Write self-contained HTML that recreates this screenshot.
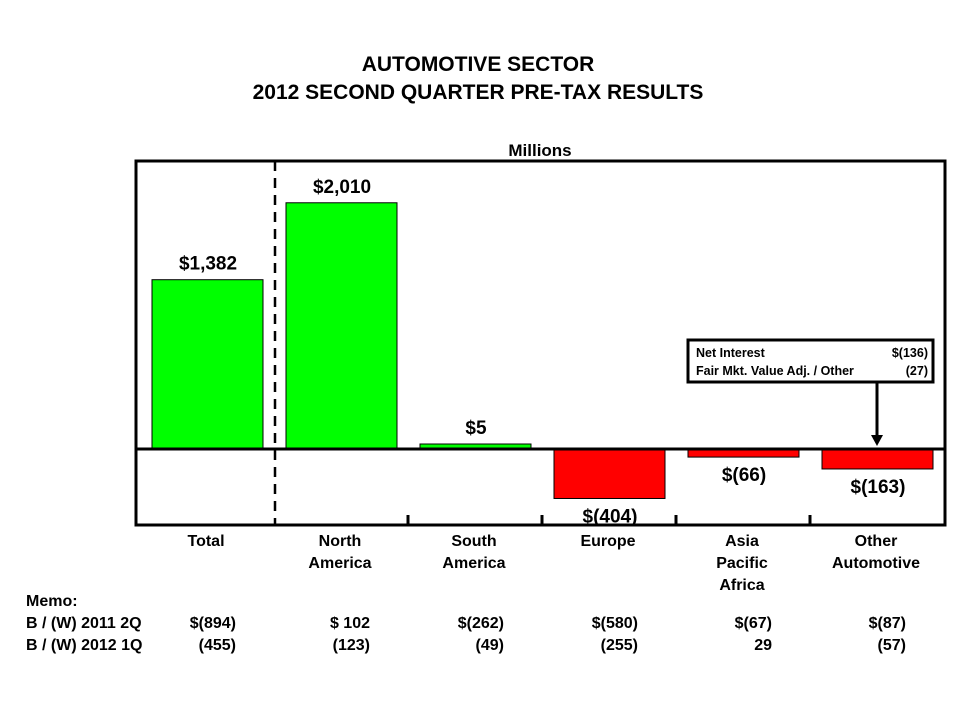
<!DOCTYPE html>
<html><head><meta charset="utf-8"><style>
body{margin:0;background:#fff;font-family:"Liberation Sans",Arial,sans-serif;}
svg text{font-family:"Liberation Sans",Arial,sans-serif;font-weight:bold;}
</style></head><body>
<svg id="chart" width="960" height="720" xmlns="http://www.w3.org/2000/svg">
<text x="478" y="71" text-anchor="middle" font-size="21">AUTOMOTIVE SECTOR</text>
<text x="478" y="99" text-anchor="middle" font-size="21">2012 SECOND QUARTER PRE-TAX RESULTS</text>
<text x="540" y="156" text-anchor="middle" font-size="17">Millions</text>
<g id="bars"></g>
<rect x="136" y="161" width="809" height="364" fill="none" stroke="#000" stroke-width="3"/>
<line x1="136" x2="945" y1="449" y2="449" stroke="#000" stroke-width="3"/>
<line x1="275" x2="275" y1="161" y2="525" stroke="#000" stroke-width="2.5" stroke-dasharray="10,7"/>
<g id="ticks"></g>
<g>
<rect x="688" y="340" width="245" height="42" fill="#fff" stroke="#000" stroke-width="3"/>
<text x="696" y="357" font-size="12.5">Net Interest</text>
<text x="928" y="357" font-size="12.5" text-anchor="end">$(136)</text>
<text x="696" y="375" font-size="12.5">Fair Mkt. Value Adj. / Other</text>
<text x="928" y="375" font-size="12.5" text-anchor="end">(27)</text>
<line x1="877" x2="877" y1="382" y2="436" stroke="#000" stroke-width="3"/>
<polygon points="871,435 883,435 877,446" fill="#000"/>
</g>
<g id="labels"></g>
<g font-size="16">
<text x="26" y="606" font-size="16">Memo:</text>
<text x="26" y="628">B / (W) 2011 2Q</text>
<text x="26" y="650">B / (W) 2012 1Q</text>
</g>
<g id="memo"></g>
</svg>
<script>
const categories=["Total","North|America","South|America","Europe","Asia|Pacific|Africa","Other|Automotive"];
const values=[1382,2010,5,-404,-66,-163];
const valueLabels=["$1,382","$2,010","$5","$(404)","$(66)","$(163)"];
const memo2011=["$(894)","$ 102","$(262)","$(580)","$(67)","$(87)"];
const memo2012=["(455)","(123)","(49)","(255)","29","(57)"];
const NS="http://www.w3.org/2000/svg";
const x0=140,step=134,zeroY=449,scale=0.1225;
const xc=i=>x0+step*i+68;
const y=v=>zeroY-v*scale;
function mk(tag,attrs,parent,txt){const e=document.createElementNS(NS,tag);for(const k in attrs)e.setAttribute(k,attrs[k]);if(txt!==undefined)e.textContent=txt;document.getElementById(parent).appendChild(e);return e;}
values.forEach((v,i)=>{
  let top,h;
  if(v>=0){h=Math.max(zeroY-y(v),5);top=zeroY-h;}else{top=zeroY;h=Math.max(y(v)-zeroY,5);}
  const r=mk('rect',{x:xc(i)-56,y:top,width:111,height:h,fill:v>=0?'#00ff00':'#ff0000',stroke:'#000','stroke-width':1},'bars');
  
  
  const ly=v>=0?top-10:top+h+24;
  const t=mk('text',{x:xc(i),y:ly,'text-anchor':'middle','font-size':19},'labels',valueLabels[i]);
  
  
  categories[i].split('|').forEach((s,k)=>{
    const c=mk('text',{x:xc(i)-2,y:546+k*22,'text-anchor':'middle','font-size':16},'labels',s);
    
    
  });
  const m1=mk('text',{x:xc(i)+28,y:628,'text-anchor':'end','font-size':16},'memo',memo2011[i]);
  
  
  const m2=mk('text',{x:xc(i)+28,y:650,'text-anchor':'end','font-size':16},'memo',memo2012[i]);
  
  
  if(i>=2){
    const tk=mk('line',{x1:x0+step*i,x2:x0+step*i,y1:515,y2:525,stroke:'#000','stroke-width':3},'ticks');
    
    
  }
});
</script>
</body></html>
